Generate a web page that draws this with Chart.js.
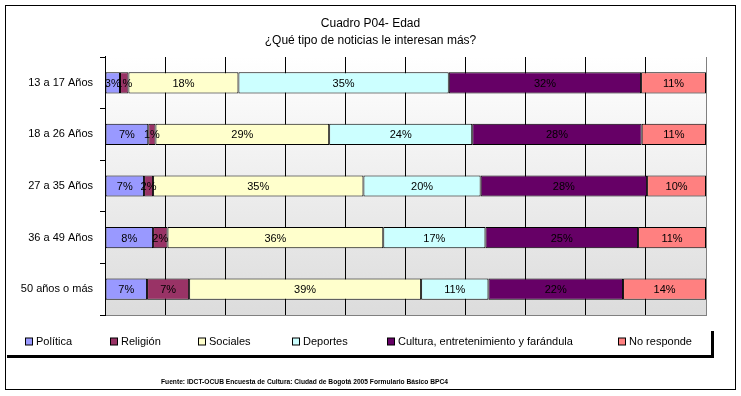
<!DOCTYPE html>
<html>
<head>
<meta charset="utf-8">
<script src="https://cdn.jsdelivr.net/npm/chart.js@4/dist/chart.umd.min.js"></script>
<style>
  body { margin: 0; background: #fff; }
</style>
</head>
<body>
<canvas id="grafico" width="741" height="396"></canvas>
<script>
// categorias (eje Y)
const edades = ['13 a 17 Años', '18 a 26 Años', '27 a 35 Años', '36 a 49 Años', '50 años o más'];

// porcentajes
const politica   = [2.5, 7.2, 6.5, 8.0, 7.0];
const religion   = [1.4, 1.2, 1.5, 2.4, 7.0];
const sociales   = [18.3, 28.9, 35.0, 35.9, 38.6];
const deportes   = [35.0, 23.8, 19.5, 17.0, 11.2];
const cultura    = [32.0, 28.2, 27.7, 25.4, 22.4];
const noResponde = [10.8, 10.7, 9.8, 11.3, 13.8];

const nombres = ['Política', 'Religión', 'Sociales', 'Deportes', 'Cultura, entretenimiento y farándula', 'No responde'];
const colores = ['#9999FF', '#993366', '#FFFFCC', '#CCFFFF', '#660066', '#FF8080'];
const valores = [politica, religion, sociales, deportes, cultura, noResponde];

const titulo = ['Cuadro P04- Edad', '¿Qué tipo de noticias le interesan más?'];
const fuente = 'Fuente: IDCT-OCUB Encuesta de Cultura: Ciudad de Bogotá 2005 Formulario Básico BPC4';

const FONT = '"Liberation Sans", Arial, sans-serif';
// posicion x de cada cuadro de la leyenda
const leyendaX = [25, 110, 198, 292, 387, 618];

// fondo, marco y degradado del area de trazado
const fondo = {
  id: 'fondo',
  beforeDraw(chart) {
    const ctx = chart.ctx;
    const a = chart.chartArea;
    ctx.save();
    ctx.fillStyle = '#fff';
    ctx.fillRect(0, 0, chart.width, chart.height);
    const g = ctx.createLinearGradient(0, a.top, 0, a.bottom);
    g.addColorStop(0, '#ffffff');
    g.addColorStop(1, '#dcdcdc');
    ctx.fillStyle = g;
    ctx.fillRect(a.left, a.top, a.right - a.left, a.bottom - a.top);
    ctx.strokeStyle = '#000';
    ctx.lineWidth = 1;
    ctx.strokeRect(5.5, 5.5, 730, 384);
    ctx.restore();
  }
};

// etiquetas de porcentaje dentro de cada segmento
const etiquetas = {
  id: 'etiquetas',
  afterDatasetsDraw(chart) {
    const ctx = chart.ctx;
    ctx.save();
    ctx.font = '11px ' + FONT;
    ctx.fillStyle = '#000';
    ctx.textAlign = 'center';
    ctx.textBaseline = 'middle';
    chart.data.datasets.forEach((ds, i) => {
      chart.getDatasetMeta(i).data.forEach((bar, j) => {
        const cx = (bar.x + bar.base) / 2;
        ctx.fillText(Math.round(ds.data[j]) + '%', cx, bar.y + 1);
      });
    });
    ctx.restore();
  }
};

// leyenda con sombra y nota de fuente
const leyenda = {
  id: 'leyenda',
  afterDraw(chart) {
    const ctx = chart.ctx;
    ctx.save();
    // sombra del recuadro
    ctx.fillStyle = '#000';
    ctx.fillRect(7, 355, 707, 3);
    ctx.fillRect(711, 331, 3, 27);

    ctx.font = '11px ' + FONT;
    ctx.textBaseline = 'middle';
    const y = 341.5;
    chart.data.datasets.forEach((ds, i) => {
      const x = leyendaX[i];
      ctx.fillStyle = ds.backgroundColor;
      ctx.fillRect(x + 0.5, y - 3.5, 7, 7);
      ctx.strokeStyle = '#000';
      ctx.lineWidth = 1;
      ctx.strokeRect(x + 0.5, y - 3.5, 7, 7);
      ctx.fillStyle = '#000';
      ctx.fillText(ds.label, x + 11, y);
    });

    // fuente
    ctx.font = 'bold 7px ' + FONT;
    const w = ctx.measureText(fuente).width;
    ctx.translate(161, 382);
    ctx.scale(287 / w, 1);
    ctx.fillText(fuente, 0, 0);
    ctx.restore();
  }
};

new Chart(document.getElementById('grafico'), {
  type: 'bar',
  data: {
    labels: edades,
    datasets: valores.map((v, i) => ({
      label: nombres[i],
      data: v,
      backgroundColor: colores[i],
      borderColor: '#000',
      borderWidth: 1,
      borderSkipped: false,
      categoryPercentage: 1,
      barPercentage: 0.41
    }))
  },
  options: {
    indexAxis: 'y',
    responsive: false,
    animation: false,
    layout: { padding: { left: 0, right: 0, top: 0, bottom: 81 } },
    scales: {
      x: {
        stacked: true,
        min: 0,
        max: 100,
        ticks: { display: false, stepSize: 10 },
        grid: {
          color: c => c.tick && c.tick.value === 100 ? '#808080' : '#000',
          drawTicks: false
        },
        border: { color: '#808080' },
        afterFit: s => { s.height = 0; }
      },
      y: {
        stacked: true,
        ticks: { color: '#000', font: { family: FONT, size: 11 }, padding: 7 },
        grid: { offset: true, drawOnChartArea: false, tickLength: 5, color: '#000' },
        border: { color: '#000' },
        afterFit: s => { s.width = 105; }
      },
      // eje vacio a la derecha, solo reserva margen
      margen: {
        type: 'category',
        axis: 'y',
        position: 'right',
        labels: edades,
        ticks: { display: false },
        grid: { display: false },
        border: { display: false },
        afterFit: s => { s.width = 35; }
      }
    },
    plugins: {
      legend: { display: false },
      tooltip: { enabled: false },
      title: {
        display: true,
        text: titulo,
        color: '#000',
        font: { family: FONT, size: 12, weight: 'normal', lineHeight: 1.4 },
        padding: { top: 15, bottom: 8.4 }
      }
    }
  },
  plugins: [fondo, etiquetas, leyenda]
});
</script>
</body>
</html>
